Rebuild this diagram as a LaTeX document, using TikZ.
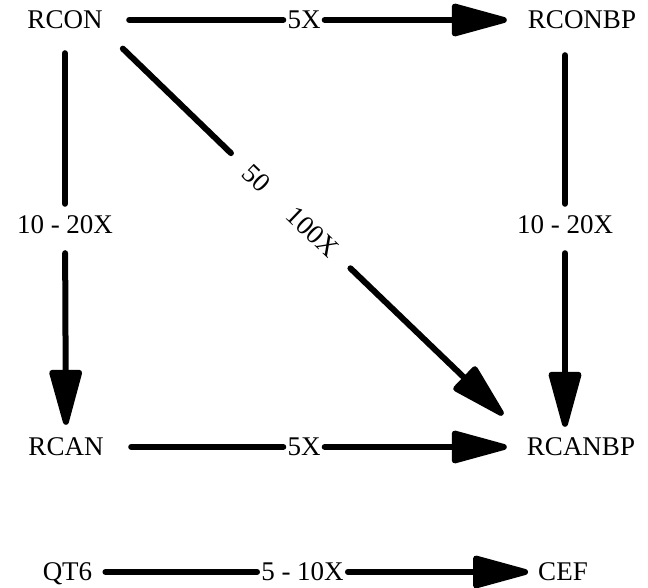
\documentclass[tikz,border=0pt]{standalone}
\usepackage{fontspec}
\setmainfont{Liberation Serif}
\usetikzlibrary{arrows.meta}
\begin{document}
\begin{tikzpicture}[x=1pt,y=1pt,
  lbl/.style={inner sep=0pt, text height=18pt, text depth=0pt, font=\fontsize{27}{30}\selectfont},
  conn/.style={line width=6pt, line cap=round},
  arr/.style={conn, -{Triangle[length=64pt,width=33pt,round]}}]
\useasboundingbox (0,0) rectangle (648,588);
% nodes
\node[lbl] (RCON)   at (65,568)  {RCON};
\node[lbl] (RCONBP) at (582,568) {RCONBP};
\node[lbl] (RCAN)   at (66,141)  {RCAN};
\node[lbl] (RCANBP) at (581,141) {RCANBP};
\node[lbl] (QT6)    at (67.5,16) {QT6};
\node[lbl] (CEF)    at (563,16)  {CEF};
\node[lbl] (l1) at (304,568) {5X};
\node[lbl] (l2) at (304,141) {5X};
\node[lbl] (l3) at (302.5,16) {5 - 10X};
\node[lbl] (l4) at (65,363) {10 - 20X};
\node[lbl] (l5) at (565,363) {10 - 20X};
\node[lbl, rotate=-43.87] (l6) at (290.6,377.2) {50\hspace{1.28em}100X};
% top row
\draw[conn, shorten <=26.5pt, shorten >=4pt] (RCON) -- (l1);
\draw[arr, shorten <=4pt, shorten >=21pt] (l1) -- (RCONBP);
% middle row
\draw[conn, shorten <=27.5pt, shorten >=4pt] (RCAN) -- (l2);
\draw[arr, shorten <=4pt, shorten >=20pt] (l2) -- (RCANBP);
% bottom row
\draw[conn, shorten <=13pt, shorten >=4pt] (QT6) -- (l3);
\draw[arr, shorten <=4pt, shorten >=10pt] (l3) -- (CEF);
% left column
\draw[conn, shorten <=24pt, shorten >=12pt] (RCON) -- (l4);
\draw[arr, shorten <=19pt, shorten >=13pt] (l4) -- (RCAN);
% right column
\draw[conn, shorten <=26pt, shorten >=12pt] (RCONBP.south -| l5) -- (l5);
\draw[arr, shorten <=19pt, shorten >=11pt] (l5) -- (RCANBP.north -| l5);
% diagonal
\draw[conn, shorten <=28pt, shorten >=22pt] (RCON.south east) -- (l6);
\draw[arr, shorten <=22pt, shorten >=33pt] (l6) -- (RCANBP.north west);
\end{tikzpicture}
\end{document}
